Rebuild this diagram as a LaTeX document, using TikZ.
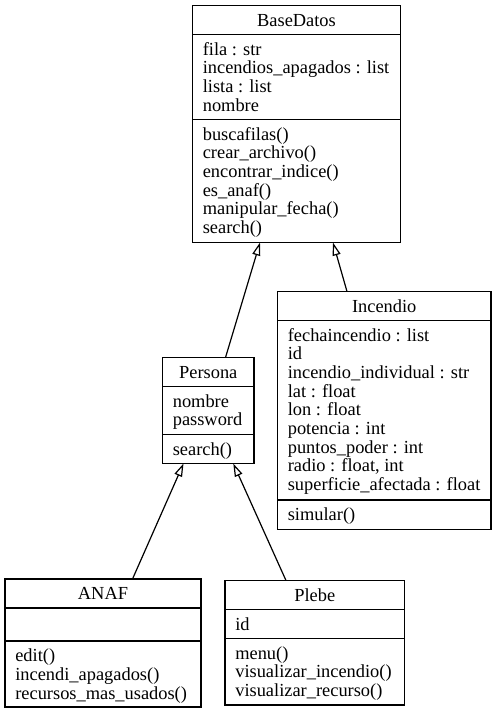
\documentclass[tikz,border=0pt]{standalone}
\usepackage{fontspec}
\setmainfont{Liberation Serif}
\usetikzlibrary{arrows.meta}
\begin{document}
\begin{tikzpicture}[x=1pt,y=-1pt,
  cls/.style={draw, rectangle, line width=1.2pt, inner sep=0pt, outer sep=0pt, anchor=north west},
  sep/.style={line width=1.2pt},
  txt/.style={anchor=north west, inner sep=0pt, outer sep=0pt, align=left, yshift=-7.7pt,
              font=\fontsize{18.4pt}{18.67pt}\selectfont},
  hdr/.style={txt, anchor=north},
  inh/.style={line width=1.2pt, -{Triangle[open, length=13pt, width=8pt]}}]
\useasboundingbox (0,0) rectangle (496,713);

% BaseDatos
\node[cls, minimum width=208pt, minimum height=237pt] (bd) at (192.5,5.5) {};
\draw[sep] ([yshift=-29pt]bd.north west) -- ([yshift=-29pt]bd.north east);
\draw[sep] ([yshift=-114pt]bd.north west) -- ([yshift=-114pt]bd.north east);
\node[hdr] (bdh) at (296.5,5.5) {\strut BaseDatos};
\node[txt] (bda) at (202.8,34.5) {\strut fila : str\\incendios\_apagados : list\\lista : list\\nombre};
\node[txt] (bdm) at (202.8,119.5) {\strut buscafilas()\\crear\_archivo()\\encontrar\_indice()\\es\_anaf()\\manipular\_fecha()\\search()};

% Incendio
\node[cls, minimum width=213.5pt, minimum height=238pt] (inc) at (277.5,291.5) {};
\draw[sep] ([yshift=-29pt]inc.north west) -- ([yshift=-29pt]inc.north east);
\draw[sep] ([yshift=-208.5pt]inc.north west) -- ([yshift=-208.5pt]inc.north east);
\node[hdr] (inch) at (384.25,291.5) {\strut Incendio};
\node[txt] (inca) at (287.8,320.5) {\strut fechaincendio : list\\id\\incendio\_individual : str\\lat : float\\lon : float\\potencia : int\\puntos\_poder : int\\radio : float, int\\superficie\_afectada : float};
\node[txt] (incm) at (287.8,500) {\strut simular()};

% Persona
\node[cls, minimum width=91.5pt, minimum height=106pt] (pe) at (162.5,357.5) {};
\draw[sep] ([yshift=-29pt]pe.north west) -- ([yshift=-29pt]pe.north east);
\draw[sep] ([yshift=-77pt]pe.north west) -- ([yshift=-77pt]pe.north east);
\node[hdr] (peh) at (208.25,357.5) {\strut Persona};
\node[txt] (pea) at (172.8,386.5) {\strut nombre\\password};
\node[txt] (pem) at (172.8,434.5) {\strut search()};

% ANAF
\node[cls, minimum width=196pt, minimum height=128pt] (an) at (5,579) {};
\draw[sep] ([yshift=-29pt]an.north west) -- ([yshift=-29pt]an.north east);
\draw[sep] ([yshift=-62pt]an.north west) -- ([yshift=-62pt]an.north east);
\node[hdr] (anh) at (103,579) {\strut ANAF};
\node[txt] (anm) at (15.3,641) {\strut edit()\\incendi\_apagados()\\recursos\_mas\_usados()};

% Plebe
\node[cls, minimum width=179.5pt, minimum height=124.5pt] (pl) at (225,580.5) {};
\draw[sep] ([yshift=-29pt]pl.north west) -- ([yshift=-29pt]pl.north east);
\draw[sep] ([yshift=-58pt]pl.north west) -- ([yshift=-58pt]pl.north east);
\node[hdr] (plh) at (314.75,580.5) {\strut Plebe};
\node[txt] (pla) at (235.3,609.5) {\strut id};
\node[txt] (plm) at (235.3,638.5) {\strut menu()\\visualizar\_incendio()\\visualizar\_recurso()};

% inheritance
\draw[inh] ([xshift=63pt]pe.north west) -- ([xshift=67.5pt]bd.south west);
\draw[inh] ([xshift=69.5pt]inc.north west) -- ([xshift=140.5pt]bd.south west);
\draw[inh] ([xshift=127.5pt]an.north west) -- ([xshift=21pt]pe.south west);
\draw[inh] ([xshift=61pt]pl.north west) -- ([xshift=70.8pt]pe.south west);
\end{tikzpicture}
\end{document}
